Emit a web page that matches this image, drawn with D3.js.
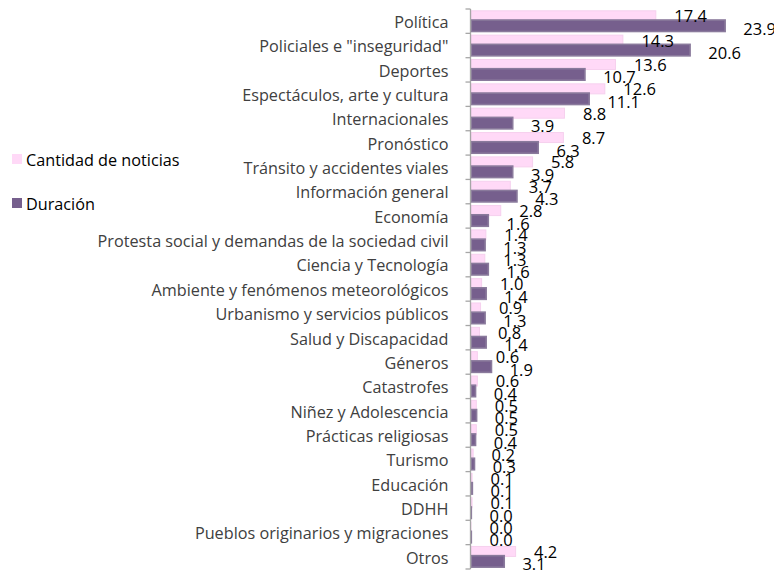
<!DOCTYPE html>
<html>
<head>
<meta charset="utf-8">
<script src="https://cdn.jsdelivr.net/npm/d3@7"></script>
<style>
body{margin:0;background:#fff;}
svg{display:block;}
</style>
</head>
<body>
<script>
// data
var categories=["Política","Policiales e \"inseguridad\"","Deportes","Espectáculos, arte y cultura","Internacionales","Pronóstico","Tránsito y accidentes viales","Información general","Economía","Protesta social y demandas de la sociedad civil","Ciencia y Tecnología","Ambiente y fenómenos meteorológicos","Urbanismo y servicios públicos","Salud y Discapacidad","Géneros","Catastrofes","Niñez y Adolescencia","Prácticas religiosas","Turismo","Educación","DDHH","Pueblos originarios y migraciones","Otros"];
var cantidad=[17.4,14.3,13.6,12.6,8.8,8.7,5.8,3.7,2.8,1.4,1.3,1.0,0.9,0.8,0.6,0.6,0.5,0.5,0.2,0.1,0.1,0.0,4.2];
var duracion=[23.9,20.6,10.7,11.1,3.9,6.3,3.9,4.3,1.6,1.3,1.6,1.4,1.3,1.4,1.9,0.4,0.5,0.4,0.3,0.1,0.0,0.0,3.1];
var seriesNames=["Cantidad de noticias","Duración"];
var colors=["#ffd9f7","#765f8d"];

var W=774,H=571;
var x0=470.5;
var font="'Open Sans', sans-serif";

var svg=d3.select("body").append("svg")
  .attr("width",W).attr("height",H);

// fit label font size to the widest label (~351px in the reference)
var probe=svg.append("text").attr("font-family",font).attr("font-size","14px")
  .text(categories[9]);
var labelSize=14*351/probe.node().getComputedTextLength();
probe.remove();

var x=d3.scaleLinear().domain([0,24]).range([x0,x0+254.9]);
var y=d3.scaleBand().domain(categories).range([9,569]).padding(0);
var bw=y.bandwidth();

var rows=categories.map(function(c,i){return {cat:c,a:cantidad[i],b:duracion[i]};});

// zero-width rects are not drawn at all, keep a hairline so the outline shows
function barW(v){return Math.max(x(v)-x(0),0.01);}

// bars - pink first, purple on top
var g=svg.append("g");
g.selectAll("rect.a").data(rows).enter().append("rect")
  .attr("class","a")
  .attr("x",x(0)+0.5)
  .attr("y",function(d){return y(d.cat)+1.8})
  .attr("width",function(d){return barW(d.a)})
  .attr("height",10)
  .attr("fill",colors[0])
  .attr("stroke","#f6d0ee").attr("stroke-width",1);

g.selectAll("rect.b").data(rows).enter().append("rect")
  .attr("class","b")
  .attr("x",x(0)+0.8)
  .attr("y",function(d){return y(d.cat)+11})
  .attr("width",function(d){return barW(d.b)})
  .attr("height",11.5)
  .attr("fill",colors[1])
  .attr("stroke","#8a7a9c").attr("stroke-width",1.6);

// axis
var axis=d3.axisLeft(y).tickSize(5).tickPadding(17);
var ax=svg.append("g").attr("transform","translate("+x0+",0)").call(axis);
ax.select(".domain").remove();
ax.selectAll(".tick line").remove();
ax.append("line").attr("x1",0).attr("x2",0).attr("y1",9).attr("y2",569)
  .attr("stroke","#a6a6a6").attr("stroke-width",1.3);
d3.range(categories.length+1).forEach(function(i){
  var yy=9+i*bw;
  ax.append("line").attr("x1",-5).attr("x2",0).attr("y1",yy).attr("y2",yy)
    .attr("stroke","#a6a6a6").attr("stroke-width",1.3);
});
ax.selectAll(".tick text")
  .attr("font-family",font)
  .attr("font-size",labelSize+"px")
  .attr("fill","#404040")
  .attr("dy","0.42em");

// value labels
var lab=svg.append("g").attr("font-family",font)
  .attr("font-size","16.5px").attr("fill","#000");
lab.selectAll("text.a").data(rows).enter().append("text")
  .attr("x",function(d){return x(d.a)+19})
  .attr("y",function(d){return y(d.cat)+7.5})
  .attr("dy","0.35em")
  .text(function(d){return d.a.toFixed(1)});
lab.selectAll("text.b").data(rows).enter().append("text")
  .attr("x",function(d){return x(d.b)+19})
  .attr("y",function(d){return y(d.cat)+20})
  .attr("dy","0.35em")
  .text(function(d){return d.b.toFixed(1)});

// legend
var leg=svg.append("g").attr("font-family",font)
  .attr("font-size",labelSize+"px").attr("fill","#000");
var legY=[160,204];
seriesNames.forEach(function(s,i){
  leg.append("rect").attr("x",12).attr("y",legY[i]-6).attr("width",10).attr("height",10)
    .attr("fill",colors[i]);
  leg.append("text").attr("x",26).attr("y",legY[i]).attr("dy","0.35em").text(s);
});
</script>
</body>
</html>
